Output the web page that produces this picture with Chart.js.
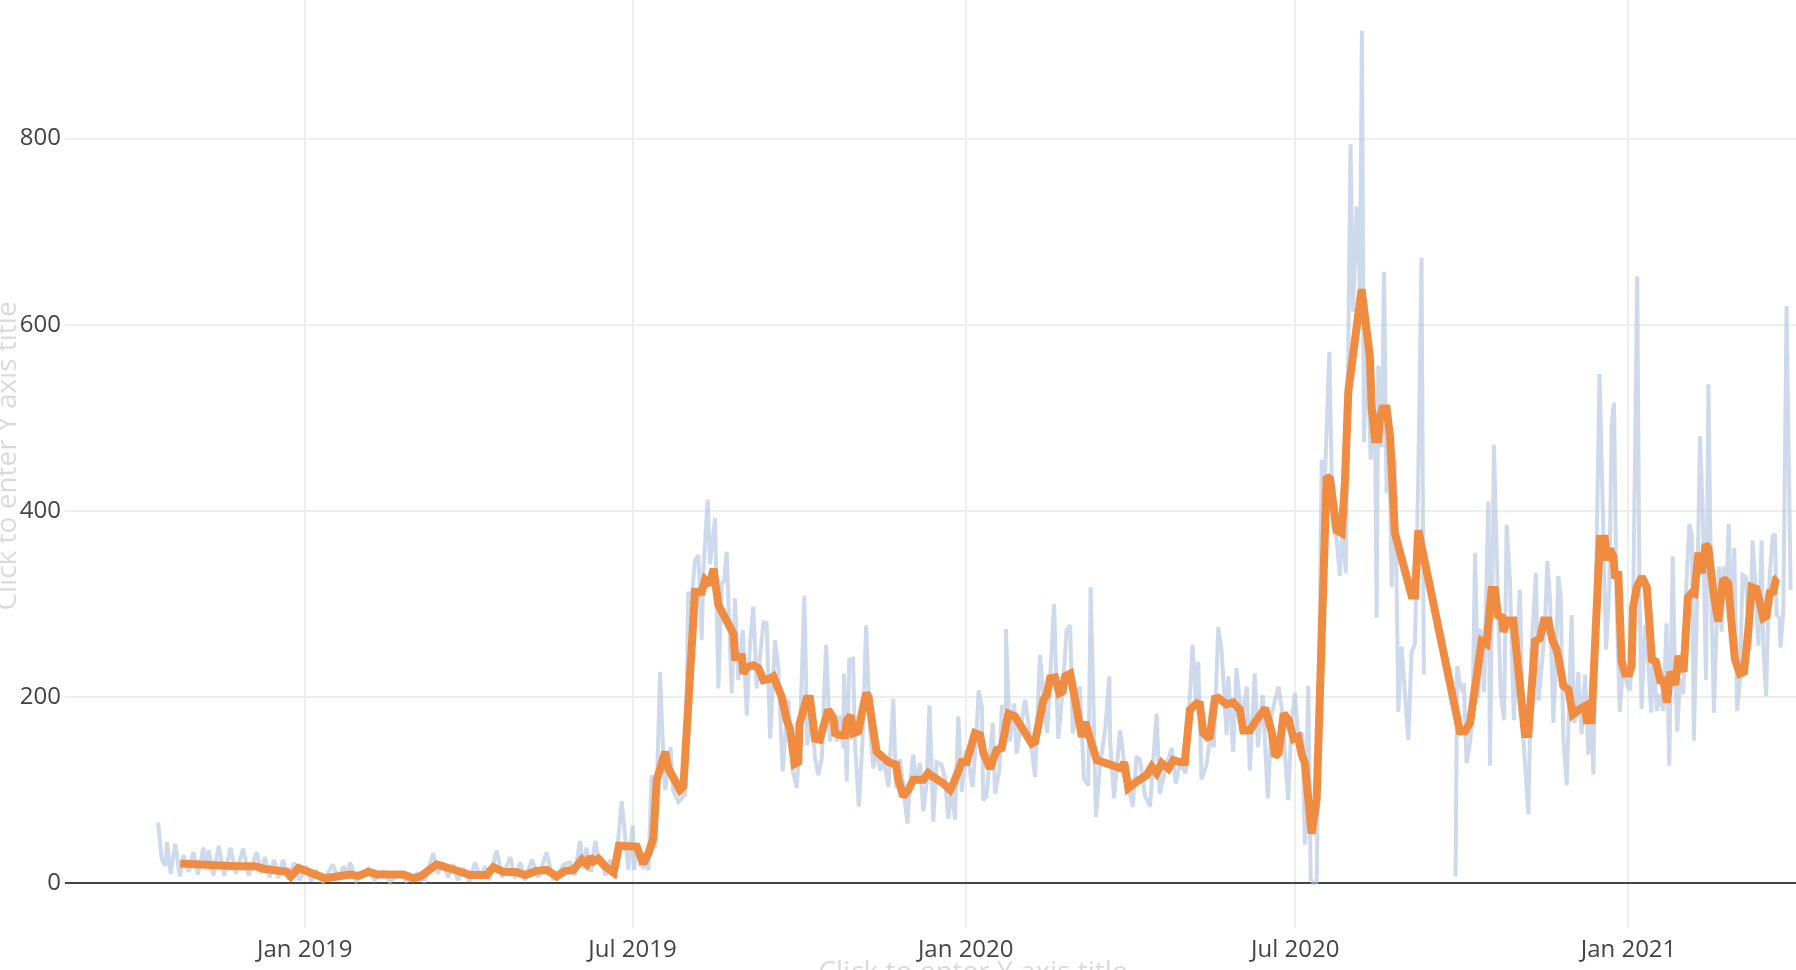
<!DOCTYPE html>
<html>
<head>
<meta charset="utf-8">
<script src="https://cdn.jsdelivr.net/npm/chart.js@4.4.1/dist/chart.umd.min.js"></script>
<style>
  html, body { margin: 0; padding: 0; background: #ffffff; }
  #wrap { width: 1796px; height: 970px; position: relative; }
</style>
</head>
<body>
<div id="wrap"><canvas id="c" width="1796" height="970"></canvas></div>
<script>
// x values are days since 2019-01-01
const xTickDays = [0, 181, 365, 547, 731];
const xTickLabels = ['Jan 2019', 'Jul 2019', 'Jan 2020', 'Jul 2020', 'Jan 2021'];
const yTickValues = [0, 200, 400, 600, 800];
const yAxisTitle = 'Click to enter Y axis title';
const xAxisTitle = 'Click to enter Y axis title';

// daily series (light blue) as [day, value]; null marks missing data
const dailySeries = [
  [-81,65],[-79,26],[-77,18],[-76,44],[-74,10],[-71.5,42],[-69,7],[-67,30],[-64,12],[-61.5,33],
  [-59,9],[-56,38],[-54.5,20],[-53,35],[-50.5,8],[-47.5,40],[-44.5,8],[-41,38],[-38,10],[-34,37],
  [-31,8],[-26.5,33],[-24,10],[-22,28],[-19.5,6],[-17,25],[-14.5,5],[-12,25],[-9,4],[-6,22],
  [-3,3],[1,18],[3.5,2],[6.5,12],[10,1],[15.5,20],[18.5,5],[21.5,18],[23.5,8],[25,22],
  [28.5,2],[35,15],[38.5,3],[43.5,12],[47,1],[52.5,10],[56,2],[62,10],[66,1],[71,32],
  [73.5,10],[76.5,22],[79,6],[82,20],[84.5,3],[87.5,16],[91,2],[94,22],[97,5],[99.5,18],
  [102,3],[106,35],[109,6],[113.5,28],[116,5],[119,22],[121.5,3],[125.5,25],[129,6],[133.5,33],
  [137,5],[140,10],[143,20],[146.5,22],[149,8],[152,45],[154,15],[155.5,38],[158,12],[160.5,45],
  [162.5,20],[164,28],[166,8],[168.5,25],[171.5,12],[175,88],[176.9,50],[178.7,14],[181.1,62],[181.8,14],
  [183.3,41],[185,20],[187,17],[188.5,25],[189.8,14],[191.6,116],[193.5,37],[196.2,227],[197.5,159],[199,100],
  [202,146],[203.4,100],[206.3,87],[210,95],[211.8,313],[213.5,300],[215.5,347],[217.4,352],[219.2,261],[220.1,335],
  [222.5,412],[223.8,343],[226.6,392],[228.4,209],[230.3,322],[231.6,324],[233,356],[235.8,204],[237.6,306],[239.4,218],
  [241.9,272],[244.1,180],[245.9,258],[247.7,297],[249.6,209],[250.5,225],[253.3,280],[255.1,279],[257,155],[259.7,261],
  [261.6,229],[263.9,120],[267,197],[269.5,120],[271.7,102],[273.6,170],[275.9,309],[277.5,148],[279.9,182],[281.8,134],
  [283.6,116],[285.5,134],[287.9,256],[290.1,152],[291.9,180],[293.8,152],[295.6,180],[297.4,145],[297.8,225],[299.3,109],
  [300.7,240],[302.8,241],[303.8,152],[306,82],[308,152],[310,277],[312.2,164],[314,123],[315.9,146],[317.7,121],
  [320,130],[322.3,103],[325,198],[326.5,102],[328.7,133],[330.5,103],[332.8,64],[334.3,107],[336,138],[337.5,109],
  [339.7,129],[341.6,77],[343.4,107],[345,191],[347.1,66],[348.9,130],[351.7,127],[353.5,113],[355.4,69],[357.2,100],
  [359.1,68],[360.9,179],[362.8,98],[365.1,143],[366.4,132],[368.8,103],[371,161],[372.1,207],[373.9,189],[374.7,89],
  [376.5,93],[379.9,172],[381.2,96],[383.6,121],[384.9,189],[386.8,189],[387.2,273],[389.4,152],[391.8,193],[393.1,139],
  [397.8,197],[399.6,172],[403.3,114],[406,245],[408.7,182],[410,161],[413.8,300],[414.9,225],[416.1,155],[418.9,215],
  [420.7,272],[422.7,277],[424.1,161],[426,189],[428,211],[430.3,112],[432.7,105],[434,318],[435.5,197],[436.9,71],
  [439.1,125],[441.9,163],[444.3,222],[444.7,153],[446.9,91],[450.2,164],[452.9,123],[455.4,100],[457.2,82],[459.4,136],
  [461.3,132],[464.1,93],[466.8,82],[470.4,182],[472.2,96],[475.5,125],[478.7,145],[481,107],[483.2,129],[486.5,118],
  [490.3,256],[492.1,195],[493.4,238],[495.2,111],[498,127],[500,157],[502,146],[504.5,275],[506.3,250],[509.1,159],
  [510,222],[512.7,141],[514.5,231],[517.4,175],[520.2,211],[521.9,121],[524.6,225],[526.4,146],[529,202],[531.8,91],
  [534,182],[537.7,211],[539.5,188],[543.1,89],[544.9,172],[546.8,204],[548.5,160],[550.9,160],[552.3,41],[554.2,212],
  [555.5,4],[557,0],[558.8,1],[561.6,455],[563.4,437],[565.8,571],[567.6,385],[569.8,370],[571.6,330],[573.1,382],
  [574.9,333],[577.5,794],[578.9,614],[580.9,727],[582.7,638],[583.8,916],[584.9,474],[586.7,583],[588.6,455],[591,513],
  [591.9,285],[592.8,556],[594.7,468],[596,657],[597.4,419],[598.9,474],[600.2,318],[602,455],[603.9,184],[605.7,254],
  [609.4,154],[611.2,248],[613.1,257],[614.9,437],[616.7,672],[618,224],[626,null],[635.5,7],[636.4,233],[638.2,212],
  [639.5,205],[640.1,215],[641.6,129],[643.5,151],[644.8,178],[646.3,355],[648,199],[649.3,273],[651.2,205],[653.6,410],
  [654.5,126],[656.7,471],[658.6,324],[660.4,205],[662.3,175],[663.7,385],[665.5,327],[667.7,175],[669.2,242],[671,315],
  [672.9,157],[675.7,74],[677.5,254],[679.9,333],[681.2,196],[683,230],[684.9,279],[686.2,346],[687.7,303],[689.5,172],
  [691,242],[692.2,330],[693.5,310],[695,157],[696.9,105],[698.3,202],[699.6,288],[700.9,172],[702,180],[703.3,227],
  [705.1,160],[707,224],[708.8,138],[710.6,187],[711.6,117],[713.4,361],[715,547],[716.8,401],[718.6,251],[720.4,315],
  [721.7,492],[723,516],[724.4,303],[726.2,184],[728.2,236],[730.3,212],[731.8,207],[733.3,255],[735.8,652],[737,320],
  [738.2,187],[740.1,277],[741.8,240],[743.5,183],[744.7,249],[746.6,185],[748.4,203],[750.2,185],[752,279],[753.5,126],
  [755.4,351],[756.5,240],[757.9,163],[759.5,220],[761.3,203],[762.8,314],[764.6,386],[766,373],[767.1,153],[769,314],
  [770.5,480],[772,400],[773.8,218],[775.1,536],[776.6,314],[778.2,183],[779.6,274],[781.1,340],[782.4,270],[783.7,340],
  [785,314],[786.4,386],[787.5,259],[789.4,360],[791,185],[792.5,218],[794,331],[795.8,329],[798,250],[799.5,368],
  [800.8,329],[802.7,255],[804.5,368],[805.4,255],[807,201],[808.2,292],[809,331],[810.6,373],[811.9,375],[812.8,288],
  [814.3,285],[814.9,253],[816.5,292],[818.3,620],[820.5,315]
];

// smoothed series (orange) as [day, value]
const smoothSeries = [
  [-68.8,21],[-37.5,18],[-27.4,18],[-21.9,15],[-9.9,12],[-7.7,7],[-3.5,16],[11.2,5],[25,9],[29.6,7.5],
  [35.2,12],[39.8,9],[54.5,9],[60,5],[63.7,7],[67.4,12],[72.9,20],[87.6,11],[91.3,8.6],[100.5,8.6],
  [104.2,17],[109.6,12],[117,11.5],[121.6,8.6],[128,13],[133.6,14],[139.1,7],[143.7,13],[148.3,14],[153,25],
  [155.7,20],[157.6,28],[159.4,23],[162.2,26],[165.8,18],[170.6,11],[173.5,40],[183.3,39],[187,21],[189.8,32],
  [192.5,48],[194.4,111],[199,141],[200.8,123],[207.2,100],[209.1,104],[215.5,313],[219.2,313],[221.1,326],[223.8,321],
  [225.7,338],[228.4,299],[236.7,268],[237.6,243],[241.3,243],[242.2,225],[244.1,232],[247.7,234],[250.5,231],[253.3,218],
  [256,219],[258.8,222],[263.4,200],[266.2,175],[268,165],[270.5,128],[272.5,130],[273.2,171],[277.2,198],[279,198],
  [281.8,155],[284.5,154],[286.4,168],[289.1,186],[292,177],[292.9,161],[295.6,159],[298.4,159],[299.3,175],[301.5,180],
  [303,161],[305.7,163],[307.6,182],[310,204],[311.3,200],[313.1,175],[315.8,141],[322.3,130],[326.5,127],[327.8,111],
  [330.5,93],[333.3,100],[336.1,111],[341.6,111],[344.3,118],[347.1,114],[352.6,107],[356.3,100],[358.2,107],[362.8,130],
  [365.5,130],[370.1,161],[372.9,159],[374.7,140],[378.4,123],[382.1,143],[384.9,145],[388.5,182],[392.2,179],[401.4,150],
  [403.3,152],[407.9,197],[409.7,202],[411.6,220],[414.3,221],[416.7,204],[418.5,206],[419.9,222],[422.7,225],[425.4,197],
  [429.1,157],[431,173],[433.7,155],[437.3,132],[451.2,123],[452.5,130],[454.8,102],[459.4,109],[464.9,116],[467.7,125],
  [470.4,118],[473.2,129],[476.9,123],[479.7,132],[483.3,130],[486,130],[488.8,186],[492.5,193],[494.3,192],[496.2,161],
  [499.6,155],[502.6,198],[504.5,199],[509,192],[512.7,194],[516.4,186],[518.3,164],[521.9,164],[524.8,173],[530.4,188],
  [534.1,161],[535.9,136],[537.8,140],[540.6,182],[543.4,175],[546.1,155],[548.6,157],[550.5,138],[552.3,129],[556,53],
  [558.8,90],[564.3,437],[566.2,434],[569.8,379],[572.6,376],[574.4,431],[576.3,529],[583.6,638],[588.2,565],[589.2,510],
  [591,477],[592.8,477],[593.7,501],[595.2,510],[597.4,510],[599.3,480],[602,376],[611.2,309],[613.1,309],[614.9,379],
  [637.9,163],[640.7,163],[643.5,172],[649.9,260],[652.6,257],[655.4,315],[657.2,315],[659.1,285],[661,288],[661.9,270],
  [664.1,282],[667.4,282],[673.8,160],[675.7,160],[679.4,260],[682.1,263],[684.3,282],[686.7,282],[689.1,260],[691.3,251],
  [693.2,233],[695,212],[697.8,208],[700.2,181],[704.2,187],[707,190],[707.9,175],[710.6,175],[715.2,370],[717.9,370],
  [718.9,347],[720.7,359],[722.6,351],[723.5,331],[725.4,331],[727.2,238],[729.1,225],[731.4,225],[732.7,233],[733.5,296],
  [735.6,318],[738.3,329],[741.1,318],[743,266],[743.9,240],[746.1,238],[748.5,218],[750.3,218],[752.2,194],[754.1,227],
  [756.8,213],[758.6,244],[761.4,227],[763.8,307],[766,312],[767.4,311],[769.6,355],[771.4,333],[773.6,364],[775.1,360],
  [777.8,314],[780.5,281],[783.3,327],[786.1,322],[788,277],[789.8,240],[792.5,225],[794.8,227],[797.1,270],[799,318],
  [801.7,316],[805.4,285],[807.2,287],[809,312],[810.9,313],[812.5,327],[813.3,328]
];

const toPoints = arr => arr.map(p => ({ x: p[0], y: p[1] }));

const miterPlugin = {
  id: 'miterLimit',
  beforeDatasetsDraw(chart) { chart.ctx.miterLimit = 2; }
};

const titlePlugin = {
  id: 'placeholderTitles',
  afterDraw(chart) {
    const ctx = chart.ctx;
    ctx.save();
    ctx.fillStyle = 'rgba(68,68,68,0.2)';
    ctx.font = '28px "Open Sans"';
    ctx.textAlign = 'center';
    ctx.textBaseline = 'alphabetic';
    ctx.save();
    ctx.translate(16, 456);
    ctx.rotate(-Math.PI / 2);
    ctx.fillText(yAxisTitle, 0, 0);
    ctx.restore();
    ctx.fillText(xAxisTitle, 973, 981);
    ctx.restore();
  }
};

new Chart(document.getElementById('c'), {
  type: 'line',
  data: {
    datasets: [
      {
        label: 'daily',
        data: toPoints(dailySeries),
        borderColor: 'rgba(176,196,222,0.62)',
        borderWidth: 4,
        pointRadius: 0,
        tension: 0,
        spanGaps: false,
        order: 1
      },
      {
        label: 'smoothed',
        data: toPoints(smoothSeries),
        borderColor: '#ef8c41',
        borderWidth: 8,
        pointRadius: 0,
        tension: 0,
        order: 0
      }
    ]
  },
  options: {
    responsive: false,
    animation: false,
    devicePixelRatio: 1,
    layout: { padding: 0 },
    plugins: { legend: { display: false }, tooltip: { enabled: false } },
    scales: {
      x: {
        type: 'linear',
        min: -132.4,
        max: 823.5,
        afterBuildTicks: s => { s.ticks = xTickDays.map(v => ({ value: v })); },
        afterFit: s => { s.height = 42; s.paddingLeft = 0; s.paddingRight = 0; },
        grid: { color: '#eeeeee', lineWidth: 2, drawTicks: false },
        border: { display: false },
        ticks: {
          padding: 8,
          maxRotation: 0,
          autoSkip: false,
          color: '#444444',
          font: { family: '"Open Sans"', size: 24 },
          callback: v => xTickLabels[xTickDays.indexOf(v)]
        }
      },
      y: {
        type: 'linear',
        min: -48.4,
        max: 949,
        afterBuildTicks: s => { s.ticks = yTickValues.map(v => ({ value: v })); },
        afterFit: s => { s.width = 65; s.paddingTop = 0; s.paddingBottom = 0; },
        grid: {
          color: c => (c.tick && c.tick.value === 0) ? '#444444' : '#eeeeee',
          lineWidth: 2,
          drawTicks: false
        },
        border: { display: false },
        ticks: {
          padding: 4,
          color: '#444444',
          font: { family: '"Open Sans"', size: 24 },
          callback: v => String(v)
        }
      }
    }
  },
  plugins: [miterPlugin, titlePlugin]
});
</script>
</body>
</html>
